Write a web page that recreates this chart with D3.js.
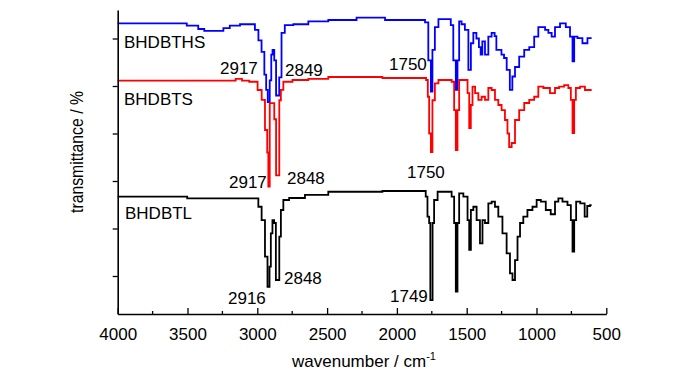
<!DOCTYPE html>
<html>
<head>
<meta charset="utf-8">
<script src="https://cdn.jsdelivr.net/npm/d3@7"></script>
<style>
  body { margin: 0; background: #fff; }
  svg text { font-family: "Liberation Sans", Arial, sans-serif; fill: #000; }
</style>
</head>
<body>
<script>
// wavenumber (cm-1) and offset transmittance values
var thsWn = [4000, 3510, 3500, 3446, 3400, 3360, 3266, 3220, 3174, 3074, 3030, 3004, 2980, 2959, 2940, 2933, 2917, 2905, 2895, 2887, 2870, 2861, 2849, 2837, 2816, 2790, 2694, 2575, 2408, 2170, 2120, 2050, 1810, 1787, 1763, 1750, 1741, 1715, 1690, 1620, 1608, 1584, 1572, 1560, 1548, 1526, 1500, 1476, 1464, 1441, 1420, 1405, 1395, 1381, 1357, 1333, 1310, 1290, 1285, 1262, 1240, 1225, 1202, 1180, 1166, 1142, 1106, 1070, 1034, 999, 975, 950, 927, 903, 880, 855, 808, 772, 748, 736, 724, 689, 653, 617, 605];
var thsT = [316, 316, 313.5, 313.5, 310, 308, 308, 311, 313.5, 315, 315, 309, 298, 286, 262, 246, 233, 256, 283, 288, 277, 240, 240, 259, 306, 314, 315, 318, 319.5, 322, 322, 319.5, 319.5, 317, 277, 244, 288, 312, 320.5, 320.5, 314, 277, 246, 277, 318, 315, 309, 267, 295, 306, 300, 291, 283, 297, 283, 302, 306, 302.6, 288, 288, 283, 279.5, 267, 246, 260, 270, 281, 288, 291, 302, 312, 312, 309, 306, 302, 312, 316, 312, 302, 276, 302, 300.5, 295, 300.5, 300.5];

var tsWn = [4000, 3160, 3150, 3120, 3100, 3016, 2980, 2957, 2933, 2925, 2917, 2905, 2887, 2870, 2861, 2848, 2837, 2825, 2802, 2694, 2575, 2408, 1800, 1782, 1775, 1763, 1750, 1741, 1715, 1690, 1620, 1596, 1584, 1572, 1560, 1548, 1500, 1488, 1476, 1465, 1452, 1428, 1405, 1381, 1357, 1333, 1310, 1285, 1262, 1238, 1214, 1202, 1190, 1166, 1142, 1106, 1070, 1034, 999, 975, 927, 880, 855, 820, 784, 760, 748, 736, 724, 712, 665, 641, 605];
var tsT = [255.6, 255.6, 257.4, 257.4, 255.6, 254.5, 245.8, 235.3, 203.7, 180, 144, 232, 232, 215, 156, 156, 235, 246, 254.5, 256.3, 257.4, 259.5, 258.4, 256.3, 238.7, 200, 180.5, 235, 252.8, 256.3, 256.3, 254.5, 224.7, 182.6, 224.7, 256.3, 256.3, 242.6, 205.8, 230, 249.3, 242.6, 235.3, 238.7, 235.3, 247.9, 245.8, 235.3, 230, 224.7, 214.2, 200, 185.8, 190, 214.2, 224.7, 232.1, 235.3, 238.7, 249.3, 247.9, 242.6, 247.9, 249.3, 251, 247.9, 235.3, 200.5, 235.3, 247.9, 249.3, 245.8, 245.8];

var tlWn = [4000, 3004, 2981, 2957, 2933, 2921, 2916, 2909, 2897, 2886, 2873, 2861, 2848, 2837, 2825, 2802, 2742, 2575, 2408, 1800, 1787, 1775, 1763, 1758, 1749, 1740, 1727, 1690, 1620, 1596, 1584, 1572, 1560, 1548, 1500, 1488, 1476, 1464, 1441, 1417, 1393, 1381, 1357, 1333, 1310, 1285, 1262, 1226, 1202, 1178, 1166, 1142, 1130, 1106, 1083, 1047, 1011, 987, 951, 916, 880, 855, 832, 796, 760, 748, 736, 724, 708, 665, 645, 628, 605];
var tlT = [133.5, 131.8, 122.9, 108.9, 70.3, 38.7, 38.7, 59.8, 94.9, 108.9, 105.8, 45.8, 45.8, 91.4, 119.5, 130, 132.1, 135.3, 138.7, 139.5, 133.5, 112.4, 105.8, 24.7, 24.7, 105.8, 130, 138.7, 138.7, 133.5, 105.8, 33.5, 105.8, 137, 133.5, 108.9, 77.4, 119.5, 122.9, 108.9, 84.4, 108.9, 105.8, 126.5, 128.2, 122.9, 112.4, 94.9, 73.9, 52.8, 45.8, 66.8, 91.4, 105.8, 112.4, 119.5, 122.9, 130, 128.2, 119.5, 115, 128.2, 131.8, 128.2, 124.7, 108.9, 75.6, 108.9, 128.2, 126.5, 112.4, 123.7, 124.7];

var seriesNames = ['BHDBTHS', 'BHDBTS', 'BHDBTL'];
var seriesColors = ['#0000ff', '#ff0000', '#000000'];

// peak labels, three per spectrum (top to bottom)
var peakLabels = ['2917', '2849', '1750', '2917', '2848', '1750', '2916', '2848', '1749'];

var xTicks = [4000, 3500, 3000, 2500, 2000, 1500, 1000, 500];
var xMinor = [3750, 3250, 2750, 2250, 1750, 1250, 750];
var yTicks = [50, 100, 150, 200, 250, 300];

var w = 700, h = 373;
var svg = d3.select('body').append('svg')
  .attr('width', w)
  .attr('height', h);

var x = d3.scaleLinear().domain([4000, 500]).range([117.7, 606.3]);
var y = d3.scaleLinear().domain([10, 330]).range([314, 10]);

var series = [
  { wn: thsWn, t: thsT },
  { wn: tsWn, t: tsT },
  { wn: tlWn, t: tlT }
];

var line = d3.line()
  .x(function (d) { return x(d[0]); })
  .y(function (d) { return y(d[1]); })
  .curve(d3.curveStep);

svg.selectAll('path.spec')
  .data(series)
  .enter()
  .append('path')
  .attr('class', 'spec')
  .attr('d', function (s) { return line(d3.zip(s.wn, s.t)); })
  .attr('fill', 'none')
  .attr('stroke', function (s, i) { return seriesColors[i]; })
  .attr('stroke-width', 1.8);

// axes
var xAxis = svg.append('g')
  .attr('transform', 'translate(0,' + y(10) + ')')
  .call(d3.axisBottom(x).tickValues(xTicks).tickSizeInner(-6).tickSizeOuter(0).tickFormat(d3.format('d')));
xAxis.append('g').selectAll('line')
  .data(xMinor)
  .enter()
  .append('line')
  .attr('x1', function (d) { return x(d); })
  .attr('x2', function (d) { return x(d); })
  .attr('y2', -3)
  .attr('stroke', '#000')
  .attr('stroke-width', 1.3);
xAxis.select('.domain').attr('stroke-width', 1.6);
xAxis.selectAll('.tick line').attr('stroke-width', 1.3);
xAxis.selectAll('.tick text')
  .attr('y', 14)
  .attr('font-size', 17)
  .attr('font-family', null);

var yAxis = svg.append('g')
  .attr('transform', 'translate(' + x(4000) + ',0)')
  .call(d3.axisLeft(y).tickValues(yTicks).tickSize(5).tickSizeOuter(0).tickFormat(''));
yAxis.select('.domain').attr('stroke-width', 1.6);
yAxis.selectAll('.tick line').attr('stroke-width', 1.3);

// axis titles
var xt = svg.append('text')
  .attr('x', 364)
  .attr('y', 367)
  .attr('text-anchor', 'middle')
  .attr('font-size', 17);
xt.append('tspan').text('wavenumber / cm');
xt.append('tspan').attr('dy', -7).attr('font-size', 11).text('-1');

svg.append('text')
  .attr('transform', 'translate(83,152) rotate(-90)')
  .attr('text-anchor', 'middle')
  .attr('font-size', 18)
  .attr('textLength', 122)
  .attr('lengthAdjust', 'spacingAndGlyphs')
  .text('transmittance / %');

// series names
var namePos = [[124, 48], [124, 105], [125, 219]];
svg.selectAll('text.name')
  .data(seriesNames)
  .enter()
  .append('text')
  .attr('class', 'name')
  .attr('x', function (d, i) { return namePos[i][0]; })
  .attr('y', function (d, i) { return namePos[i][1]; })
  .attr('font-size', 17)
  .text(function (d) { return d; });

// peak annotations
var peakPos = [[220, 74], [285, 76], [389, 70], [229, 188], [287, 184], [407, 178], [228, 304], [284, 284], [390, 302]];
svg.selectAll('text.peak')
  .data(peakLabels)
  .enter()
  .append('text')
  .attr('class', 'peak')
  .attr('x', function (d, i) { return peakPos[i][0]; })
  .attr('y', function (d, i) { return peakPos[i][1]; })
  .attr('font-size', 17)
  .text(function (d) { return d; });
</script>
</body>
</html>
